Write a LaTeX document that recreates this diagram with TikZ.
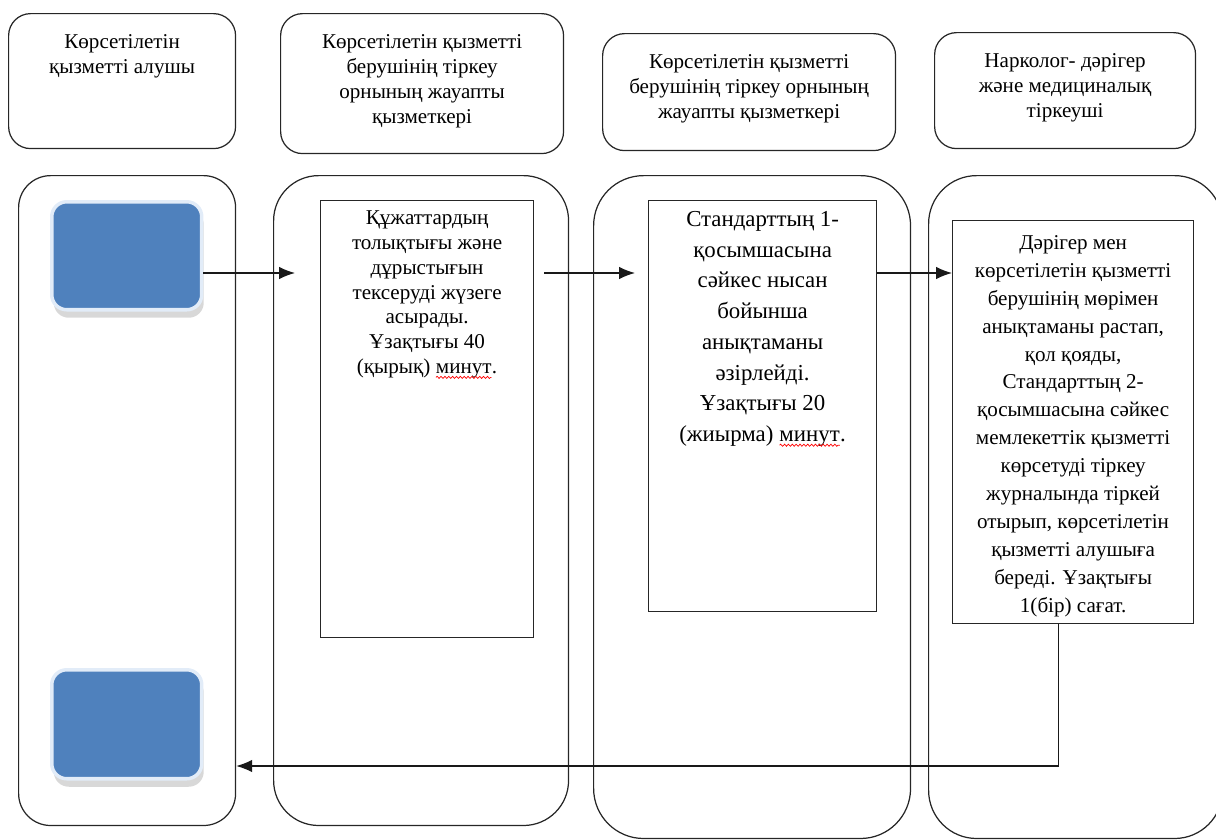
\documentclass[tikz,border=0pt]{standalone}
\usepackage{fontspec}
\setmainfont{Liberation Serif}
\usetikzlibrary{positioning,arrows.meta,shadows,decorations.pathmorphing}
\definecolor{flowblue}{RGB}{79,129,189}
\definecolor{flowglow}{RGB}{226,236,248}
\newcommand{\spellwave}[1]{\tikz[baseline=(w.base), x=1cm, y=1cm]{\node[inner sep=0pt, outer sep=0pt, anchor=base] (w) {#1};
	\draw[red, line width=0.4pt, decorate, decoration={snake, amplitude=0.6pt, segment length=2.2pt}] ([yshift=-2pt]w.base west) -- ([yshift=-2pt]w.base east);}}
\tikzset{
	lane/.style={draw=black!85, line width=0.7pt, anchor=north west},
	header/.style={draw=black!85, line width=0.7pt, rounded corners=0.44cm, anchor=north west},
	headtext/.style={anchor=north, align=center, inner sep=0pt, font=\fontsize{12}{14.2}\selectfont},
	stepbox/.style={draw=black!85, line width=0.7pt, anchor=north west},
	steptext/.style={anchor=north, align=center, inner sep=0pt},
	startend/.style={draw=flowglow, line width=2pt, fill=flowblue, rounded corners=0.3cm,
		anchor=north west, minimum width=3cm,
		drop shadow={shadow xshift=0.04cm, shadow yshift=-0.16cm, fill=black!30}},
	flow/.style={-{Latex[length=9pt,width=7pt]}, line width=0.7pt, draw=black!90}
}

\begin{document}
\begin{tikzpicture}[x=0.02cm, y=-0.02cm]
	\useasboundingbox (0,0) rectangle (1216,839);
	
	\node[header, minimum width=4.54cm, minimum height=2.7cm] (h1) at (8,13) {};
	\node[header, minimum width=5.66cm, minimum height=2.8cm] (h2) at (280,13) {};
	\node[header, minimum width=5.86cm, minimum height=2.34cm] (h3) at (602,33) {};
	\node[header, minimum width=5.22cm, minimum height=2.32cm] (h4) at (934,32) {};
	\node[headtext, below=0.42cm of h1.north] (h1text) {Көрсетілетін\\қызметті алушы};
	\node[headtext, below=0.42cm of h2.north] (h2text) {Көрсетілетін қызметті\\берушінің тіркеу\\орнының жауапты\\қызметкері};
	\node[headtext, below=0.42cm of h3.north] (h3text) {Көрсетілетін қызметті\\берушінің тіркеу орнының\\жауапты қызметкері};
	\node[headtext, below=0.42cm of h4.north] (h4text) {Нарколог- дәрігер\\және медициналық\\тіркеуші};
	
	\node[lane, rounded corners=0.64cm, minimum width=4.34cm, minimum height=13cm] (L1) at (18,175) {};
	\node[lane, rounded corners=0.9cm, minimum width=5.9cm, minimum height=13cm] (L2) at (273,175) {};
	\node[lane, rounded corners=1cm, minimum width=6.34cm, minimum height=13.26cm] (L3) at (593,175) {};
	\node[lane, rounded corners=0.96cm, minimum width=5.88cm, minimum height=13.26cm] (L4) at (928,175) {};
	
	\node[startend, minimum height=2.16cm] (st1) at (50,200) {};
	\node[startend, minimum height=2.18cm] (st2) at (50,668) {};
	
	\node[stepbox, minimum width=4.26cm, minimum height=8.74cm] (s1) at (320,200) {};
	\node[stepbox, minimum width=4.56cm, minimum height=8.22cm] (s2) at (648,200) {};
	\node[stepbox, minimum width=4.82cm, minimum height=8.06cm] (s3) at (952,220) {};
	\node[steptext, font=\fontsize{12}{14.2}\selectfont, below=0.2cm of s1.north] (s1text) {Құжаттардың\\толықтығы және\\дұрыстығын\\тексеруді жүзеге\\асырады.\\Ұзақтығы 40\\(қырық) \spellwave{минут}.};
	\node[steptext, font=\fontsize{13}{17.5}\selectfont, below=0.22cm of s2.north] (s2text) {Стандарттың 1-\\қосымшасына\\сәйкес нысан\\бойынша\\анықтаманы\\әзірлейді.\\Ұзақтығы 20\\(жиырма) \spellwave{минут}.};
	\node[steptext, font=\fontsize{12}{15.9}\selectfont, below=0.3cm of s3.north] (s3text) {Дәрігер мен\\көрсетілетін қызметті\\берушінің мөрімен\\анықтаманы растап,\\қол қояды,\\Стандарттың 2-\\қосымшасына сәйкес\\мемлекеттік қызметті\\көрсетуді тіркеу\\журналында тіркей\\отырып, көрсетілетін\\қызметті алушыға\\береді. Ұзақтығы\\1(бір) сағат.};
	
	\coordinate (lvl) at (0,273);
	\coordinate (back) at (0,766);
	\draw[flow] (st1.east |- lvl) -- ([xshift=-0.5cm]s1.west |- lvl);
	\draw[flow] ([xshift=0.2cm]s1.east |- lvl) -- ([xshift=-0.26cm]s2.west |- lvl);
	\draw[flow] (s2.east |- lvl) -- (s3.west |- lvl);
	\draw[flow] ([xshift=-0.29cm]s3.south) |- (L1.east |- back);
\end{tikzpicture}
\end{document}
